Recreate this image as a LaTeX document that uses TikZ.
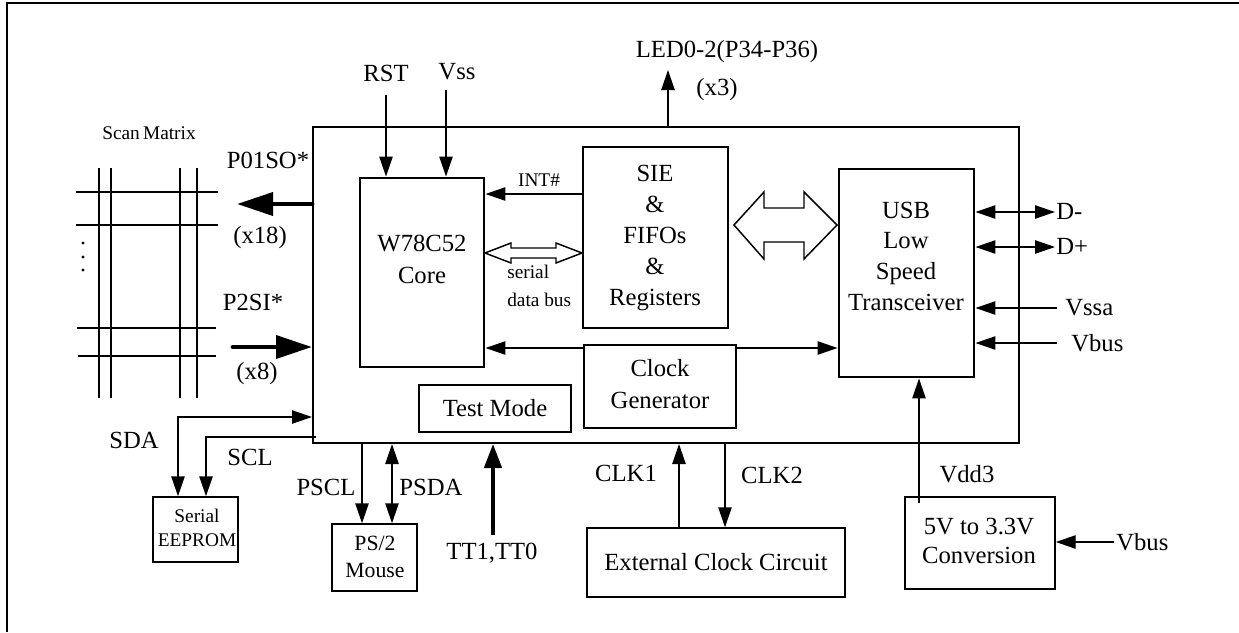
\documentclass[tikz,border=0pt]{standalone}
\usepackage{fontspec}
\setmainfont{Liberation Serif}
\usetikzlibrary{arrows.meta,fit}
\newcommand{\mybox}[6]{\path (#2,#3) coordinate (#1-a) (#4,#5) coordinate (#1-b);
  \node[#6, fit=(#1-a)(#1-b), inner sep=0pt] (#1) {};}
\tikzset{
  thinln/.style={line width=1.1pt},
  thickbox/.style={draw, line width=2.2pt},
  thinbox/.style={draw, line width=1.1pt},
  arr/.style={line width=1.1pt, -{Triangle[length=15pt,width=10pt]}},
  darr/.style={line width=1.1pt, {Triangle[length=15pt,width=10pt]}-{Triangle[length=15pt,width=10pt]}},
  bigarr/.style={line width=3.6pt, line cap=round, -{Triangle[length=27pt,width=17pt]}},
  midarr/.style={line width=2.6pt, -{Triangle[length=18pt,width=13pt]}},
  lbl/.style={font=\fontsize{18.5}{24}\selectfont, inner sep=0pt, align=center},
  slbl/.style={font=\fontsize{14.5}{18}\selectfont, inner sep=0pt, align=center},
  hollow/.style={line width=1.1pt, fill=white, line join=miter},
}
\begin{document}
\begin{tikzpicture}[x=0.75pt,y=-0.75pt]
\useasboundingbox (0,0) rectangle (1239,632);
% outer frame
\draw[line width=1.6pt] (7,632) -- (7,3) -- (1239,3);

% boxes
\mybox{chip}{313}{127}{1019}{443}{draw, line width=1.5pt}
\mybox{core}{360}{178}{484}{367}{thickbox}
\mybox{sie}{583}{147}{728}{328}{thickbox}
\mybox{usb}{839}{169}{974}{377}{thickbox}
\mybox{clkgen}{584}{345}{736}{428}{thickbox}
\mybox{testm}{419}{385}{571}{432}{thickbox}
\mybox{eeprom}{153}{497}{238}{562}{thinbox}
\mybox{mouse}{332}{524}{417}{591}{thinbox}
\mybox{extclk}{587}{528}{845}{597}{thinbox}
\mybox{conv}{905}{497}{1055}{589}{thinbox}

% box texts
\node[lbl, font=\fontsize{18.5}{24}\selectfont] (coret) at (422,259) {W78C52\\Core};
\node[lbl, font=\fontsize{18.5}{23.2}\selectfont] (siet) at (655,238) {SIE\\\&\\FIFOs\\\&\\Registers};
\node[lbl, font=\fontsize{18.5}{23}\selectfont] (usbt) at (906,256) {USB\\Low\\Speed\\Transceiver};
\node[lbl, font=\fontsize{18.5}{24}\selectfont] (clkt) at (660,384) {Clock\\Generator};
\node[lbl] (testt) at (495,408) {Test Mode};
\node[slbl] (eepromt) at (197,528) {Serial\\EEPROM};
\node[lbl, font=\fontsize{16.3}{20}\selectfont] (mouset) at (375,557) {PS/2\\Mouse};
\node[lbl] (extt) at (716,562) {External Clock Circuit};
\node[lbl, font=\fontsize{18.5}{22}\selectfont] (convt) at (979,541) {5V to 3.3V\\Conversion};

% scan matrix
\foreach \y/\a/\b in {192/76/218,225/76/218,328/77/216,356/78/216}
  \draw[thinln] (\a,\y) -- (\b,\y);
\foreach \x in {99,111,180,197}
  \draw[thinln] (\x,168) -- (\x,398);
\foreach \y in {243,257,270}
  \fill (83,\y) circle (1.2pt);
\node[slbl] (scanm) at (149,133) {Scan\,Matrix};

% top inputs
\coordinate (rstTop) at (386,95);
\coordinate (vssTop) at (446,90);
\node[lbl] (rstl) at (386,73) {RST};
\node[lbl] (vssl) at (457,72) {Vss};
\draw[arr] (rstTop) -- (rstTop |- core.north);
\draw[arr] (vssTop) -- (vssTop |- core.north);

% LED
\coordinate (ledTop) at (668,70);
\draw[arr] (ledTop |- chip.north) -- (ledTop);
\node[lbl] (ledl) at (727,52) {LED0-2(P34-P36)};
\node[lbl] (x3l) at (717,90) {(x3)};

% INT#
\coordinate (intY) at (0,194);
\draw[arr] (sie.west |- intY) -- (core.east |- intY);
\node[slbl] (intl) at (539,180) {INT\#};

% serial data bus hollow arrow
\draw[hollow] (485,253) -- (511,243) -- (511,248) -- (556,248) -- (556,243) -- (582,253)
  -- (556,263) -- (556,258) -- (511,258) -- (511,263) -- cycle;
\node[slbl, anchor=west, align=left, font=\fontsize{14.5}{21}\selectfont] (sdbl) at (507,286) {serial\\data bus};

% big hollow double arrow
\draw[hollow] (734,225) -- (764,192) -- (764,208) -- (804,208) -- (804,192) -- (837,225)
  -- (804,259) -- (804,242) -- (764,242) -- (764,259) -- cycle;

% clock line
\coordinate (clkY) at (0,348);
\draw[arr] (clkgen.west |- clkY) -- (core.east |- clkY);
\draw[arr] (clkgen.east |- clkY) -- (usb.west |- clkY);

% right side USB signals
\coordinate (dmY) at (0,212);
\coordinate (dpY) at (0,247);
\coordinate (dmEnd) at (1055,212);
\coordinate (dpEnd) at (1055,247);
\coordinate (vssaEnd) at (1057,308);
\coordinate (vbusEnd) at (1057,343);
\draw[darr] (usb.east |- dmY) -- (dmEnd);
\draw[darr] (usb.east |- dpY) -- (dpEnd);
\draw[arr] (vssaEnd) -- (usb.east |- vssaEnd);
\draw[arr] (vbusEnd) -- (usb.east |- vbusEnd);
\node[lbl, anchor=west] (dml) at (1056,211) {D-};
\node[lbl, anchor=west] (dpl) at (1056,246) {D+};
\node[lbl, anchor=west] (vssal) at (1065,308) {Vssa};
\node[lbl, anchor=west] (vbusl) at (1071,343) {Vbus};

% Vdd3
\coordinate (vddBot) at (919,503);
\draw[arr] (vddBot) -- (vddBot |- usb.south);
\node[lbl] (vddl) at (967,474) {Vdd3};

% Vbus into conversion
\coordinate (vbus2) at (1114,542);
\draw[arr] (vbus2) -- (conv.east |- vbus2);
\node[lbl, anchor=west] (vbus2l) at (1116,542) {Vbus};

% clocks
\coordinate (clk1x) at (679,0);
\coordinate (clk2x) at (725,0);
\draw[arr] (clk1x |- extclk.north) -- (clk1x |- chip.south);
\draw[arr] (clk2x |- chip.south) -- (clk2x |- extclk.north);
\node[lbl] (clk1l) at (626,473) {CLK1};
\node[lbl] (clk2l) at (772,475) {CLK2};

% PS/2
\coordinate (psclx) at (362,0);
\coordinate (psdax) at (392,0);
\draw[arr] (psclx |- chip.south) -- (psclx |- mouse.north);
\draw[darr] (psdax |- chip.south) -- (psdax |- mouse.north);
\node[lbl] (pscll) at (326,487) {PSCL};
\node[lbl] (psdal) at (431,487) {PSDA};

% TT1,TT0
\coordinate (ttBot) at (493,535);
\draw[midarr] (ttBot) -- (ttBot |- chip.south);
\node[lbl] (ttl) at (492,553) {TT1,TT0};

% SDA / SCL
\coordinate (sdaC) at (178,417);
\coordinate (sclC) at (206,437);
\coordinate (sclR) at (316,437);
\draw[darr] (chip.west |- sdaC) -- (sdaC) -- (sdaC |- eeprom.north);
\draw[arr] (sclR) -- (sclC) -- (sclC |- eeprom.north);
\node[lbl] (sdal) at (134,440) {SDA};
\node[lbl] (scll) at (250,457) {SCL};

% scan matrix port arrows
\coordinate (p01) at (237,204);
\coordinate (p2s) at (233,347);
\draw[bigarr] (chip.west |- p01) -- (p01);
\draw[bigarr] (p2s) -- (chip.west |- p2s);
\node[lbl] (p01l) at (268,160) {P01SO*};
\node[lbl] (x18l) at (260,238) {(x18)};
\node[lbl] (p2l) at (253,302) {P2SI*};
\node[lbl] (x8l) at (257,374) {(x8)};
\end{tikzpicture}
\end{document}
